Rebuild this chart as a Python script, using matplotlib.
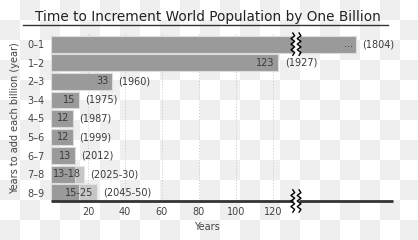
import numpy as np
import matplotlib
matplotlib.use("Agg")
import matplotlib.pyplot as plt
from matplotlib.lines import Line2D

# Billion steps and years needed for each
steps = ["0–1", "1–2", "2–3", "3–4", "4–5", "5–6", "6–7", "7–8", "8–9"]
years_low = [165, 123, 33, 15, 12, 12, 13, 13, 15]
years_high = [165, 123, 33, 15, 12, 12, 13, 18, 25]
value_labels = ["...", "123", "33", "15", "12", "12", "13", "13-18", "15-25"]
year_labels = ["(1804)", "(1927)", "(1960)", "(1975)", "(1987)", "(1999)",
               "(2012)", "(2025-30)", "(2045-50)"]
x_ticks = [20, 40, 60, 80, 100, 120]

# axis break (the first bar is much longer than the axis shows)
break_a, break_b = 130.8, 134.2
x_max = 185

dark = "#9a9a9a"
light = "#c6c6c6"
text_col = "#3a3a3a"

fig = plt.figure(figsize=(4.18, 2.40), dpi=100)

# checkerboard background
bg = fig.add_axes([0, 0, 1, 1], zorder=-5)
ncol, nrow = 21, 12
board = (np.add.outer(np.arange(nrow), np.arange(ncol)) % 2).astype(float)
bg.imshow(board, cmap=matplotlib.colors.ListedColormap(["#ffffff", "#efefef"]),
          extent=[0, ncol * 20, nrow * 20, 0], interpolation="nearest", aspect="auto")
bg.set_xlim(0, 418)
bg.set_ylim(240, 0)
bg.axis("off")

ax = fig.add_axes([51 / 418, 1 - 201 / 240, (393 - 51) / 418, (201 - 33) / 240])
ax.patch.set_alpha(0)
y = np.arange(len(steps))

for i in range(len(steps)):
    lo, hi = years_low[i], years_high[i]
    if i == 0:
        ax.barh(i, break_a, height=0.9, color=dark, edgecolor="#dcdcdc", lw=0.8, zorder=2)
        ax.barh(i, hi - break_b, left=break_b, height=0.9, color=dark,
                edgecolor="#dcdcdc", lw=0.8, zorder=2)
    else:
        if hi > lo:
            ax.barh(i, hi, height=0.9, color=light, edgecolor="#e4e4e4", lw=0.8, zorder=2)
        ax.barh(i, lo, height=0.9, color=dark, edgecolor="#dcdcdc", lw=0.8, zorder=3)
    ax.annotate(value_labels[i], (hi, i), xytext=(-2.5, 0), textcoords="offset points",
                ha="right", va="center", fontsize=7, color=text_col, zorder=5)
    ax.annotate(year_labels[i], (hi, i), xytext=(4.5, 0), textcoords="offset points",
                ha="left", va="center", fontsize=7, color=text_col, zorder=5)

ax.set_xlim(0, x_max)
ax.set_ylim(len(steps) - 1 + 0.44, -0.6)
ax.set_yticks(y)
ax.set_yticklabels(steps)
ax.set_xticks(x_ticks)
ax.tick_params(length=0, labelsize=7, colors="#444444")
ax.tick_params(axis="y", pad=4.5)
ax.tick_params(axis="x", pad=4)
for s in ax.spines.values():
    s.set_visible(False)
ax.grid(axis="x", linestyle=(0, (1, 2)), color="#c8c8c8", lw=0.7, zorder=0)
ax.set_axisbelow(True)

# bottom axis line with break
y_axis = len(steps) - 1 + 0.44
ax.plot([0, break_a], [y_axis, y_axis], color="#333333", lw=2, clip_on=False,
        solid_capstyle="butt", zorder=4)
ax.plot([break_b, x_max], [y_axis, y_axis], color="#333333", lw=2, clip_on=False,
        solid_capstyle="butt", zorder=4)

# zigzag break markers
zz_y = np.linspace(-0.6, 0.6, 9)
zz_x = np.array([0, 1, -1, 1, -1, 1, -1, 1, 0]) * 1.0
for yc in [0, y_axis]:
    for xc in [break_a, break_b]:
        ax.plot(xc + zz_x, yc + zz_y, color="black", lw=1, clip_on=False, zorder=6)

fig.text(208 / 418, 1 - 17 / 240, "Time to Increment World Population by One Billion",
         ha="center", va="center", fontsize=9.8, color="#222222")
fig.add_artist(Line2D([23 / 418, 388 / 418], [1 - 25 / 240, 1 - 25 / 240],
                      color="#333333", lw=1))
fig.text(15 / 418, 1 - 118 / 240, "Years to add each billion (year)", rotation=90,
         ha="center", va="center", fontsize=7, color="#444444")
fig.text(207 / 418, 1 - 227 / 240, "Years", ha="center", va="center",
         fontsize=7, color="#444444")

fig.savefig("out.png", dpi=100)
